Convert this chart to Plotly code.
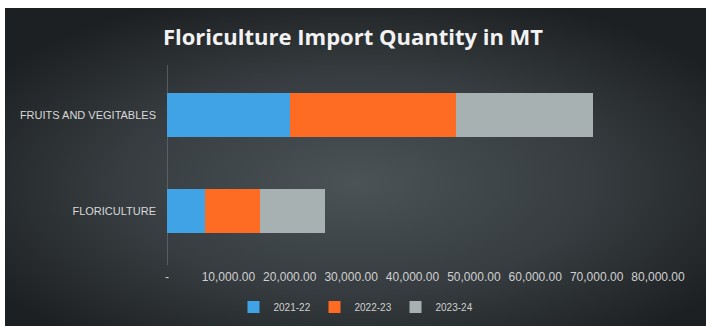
import base64
import plotly.graph_objects as go

# ---- data ----
categories = ["FLORICULTURE", "FRUITS AND VEGITABLES"]
series_names = ["2021-22", "2022-23", "2023-24"]
v_2021_22 = [6200, 20000]
v_2022_23 = [8950, 27100]
v_2023_24 = [10600, 22300]
tick_values = [0, 10000, 20000, 30000, 40000, 50000, 60000, 70000, 80000]
tick_labels = ["-", "10,000.00", "20,000.00", "30,000.00", "40,000.00",
               "50,000.00", "60,000.00", "70,000.00", "80,000.00"]
series_colors = ["#3fa3e6", "#fd6c22", "#a8b1b1"]

# ---- layout geometry ----
W, H = 706, 326
ML, MR, MT, MB = 167, 48, 67, 67
PW, PH = W - ML - MR, H - MT - MB
BG_X0, BG_Y0 = 5, 8  # dark panel starts here (white frame around)

fig = go.Figure()
for name, vals, col in zip(series_names, [v_2021_22, v_2022_23, v_2023_24], series_colors):
    fig.add_trace(go.Bar(
        y=categories, x=vals, name=name, orientation="h",
        marker=dict(color=col, line=dict(width=0)),
    ))

# radial gradient background as an SVG data URI
bw, bh = W - BG_X0, H - BG_Y0
svg = (
    f'<svg xmlns="http://www.w3.org/2000/svg" width="{bw}" height="{bh}" '
    f'viewBox="0 0 {bw} {bh}" preserveAspectRatio="none">'
    '<defs><radialGradient id="g" cx="0.5" cy="0.55" r="0.62">'
    '<stop offset="0" stop-color="#4b5356"/>'
    '<stop offset="0.55" stop-color="#363c3f"/>'
    '<stop offset="1" stop-color="#1d2023"/>'
    '</radialGradient></defs>'
    f'<rect width="{bw}" height="{bh}" fill="url(#g)"/></svg>'
)
src = "data:image/svg+xml;base64," + base64.b64encode(svg.encode()).decode()

fig.add_layout_image(dict(
    source=src, xref="paper", yref="paper",
    x=(BG_X0 - ML) / PW, y=(H - MB - BG_Y0) / PH,
    sizex=bw / PW, sizey=bh / PH,
    xanchor="left", yanchor="top", sizing="stretch", layer="below",
))

# y-axis line extends a little beyond the plot area, as in the reference
fig.add_shape(type="line", xref="x", yref="paper", x0=0, x1=0,
              y0=(H - MB - 265) / PH, y1=(H - MB - 65) / PH,
              line=dict(color="#7a8285", width=1), layer="below")

fig.update_layout(
    width=W, height=H,
    margin=dict(l=ML, r=MR, t=MT, b=MB, autoexpand=False),
    paper_bgcolor="white",
    plot_bgcolor="rgba(0,0,0,0)",
    barmode="stack",
    bargap=0.55,
    font=dict(family="Liberation Sans, Arial, sans-serif", color="#d9d9d9"),
    title=dict(
        text="<b>Floriculture Import Quantity in MT</b>",
        x=0.5, xanchor="center", y=1 - 37 / H, yanchor="middle",
        yref="container",
        font=dict(family="Open Sans, sans-serif", size=22, color="#f2f2f2"),
    ),
    xaxis=dict(
        range=[0, 80000], tickvals=tick_values, ticktext=tick_labels,
        showgrid=False, zeroline=False, showline=False, ticks="",
        tickfont=dict(size=12, color="#d0d0d0"),
        ticklabelstandoff=9,
        fixedrange=True,
    ),
    yaxis=dict(
        categoryorder="array", categoryarray=categories,
        showgrid=False, zeroline=False, showline=False, ticks="",
        tickfont=dict(size=11, color="#d9d9d9"),
        ticklabelstandoff=10,
        fixedrange=True,
    ),
    legend=dict(
        orientation="h", x=(355 - ML) / PW, xanchor="center",
        y=(H - MB - 307) / PH, yanchor="middle",
        font=dict(size=10, color="#d0d0d0"),
        bgcolor="rgba(0,0,0,0)", itemwidth=30, traceorder="normal",
        entrywidth=36,
    ),
    showlegend=True,
)

fig.write_html("out.html")
